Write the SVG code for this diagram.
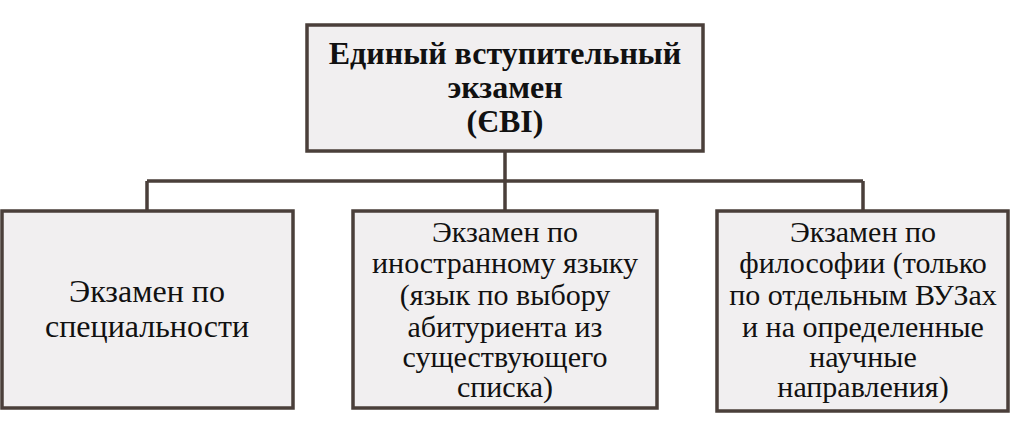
<svg xmlns="http://www.w3.org/2000/svg" width="1024" height="437" viewBox="0 0 1024 437">
<style>
.box{fill:#f1eff0;stroke:#4a3f3a;stroke-width:3.5}
.con{fill:none;stroke:#4a3f3a;stroke-width:3.5}
text{font-family:'Liberation Serif','Times New Roman',serif;fill:#111;text-anchor:middle}
.b{font-weight:bold;font-size:32px}
.r{font-size:30px}
.l{font-size:32px}
</style>
<rect width="1024" height="437" fill="#ffffff"/>
<g id="connectors">
<path class="con" d="M505 151V211M147 181H863M147 181V211M863 181V211"/>
</g>
<g id="root">
<rect class="box" x="307" y="25" width="396" height="126"/>
<text class="b" x="505" y="64">Единый вступительный</text>
<text class="b" x="505" y="98">экзамен</text>
<text class="b" x="505" y="132">(ЄВІ)</text>
</g>
<g id="spec">
<rect class="box" x="2" y="211" width="291" height="197"/>
<text class="l" x="147" y="302">Экзамен по</text>
<text class="l" x="147" y="337">специальности</text>
</g>
<g id="lang">
<rect class="box" x="353" y="211" width="304" height="197"/>
<text class="r" x="505" y="242">Экзамен по</text>
<text class="r" x="505" y="273">иностранному языку</text>
<text class="r" x="505" y="305">(язык по выбору</text>
<text class="r" x="505" y="337">абитуриента из</text>
<text class="r" x="505" y="367">существующего</text>
<text class="r" x="505" y="397">списка)</text>
</g>
<g id="phil">
<rect class="box" x="717" y="211" width="291" height="200"/>
<text class="r" x="863" y="242">Экзамен по</text>
<text class="r" x="863" y="273">философии (только</text>
<text class="r" x="863" y="305">по отдельным ВУЗах</text>
<text class="r" x="863" y="337">и на определенные</text>
<text class="r" x="863" y="367">научные</text>
<text class="r" x="863" y="397">направления)</text>
</g>
</svg>
